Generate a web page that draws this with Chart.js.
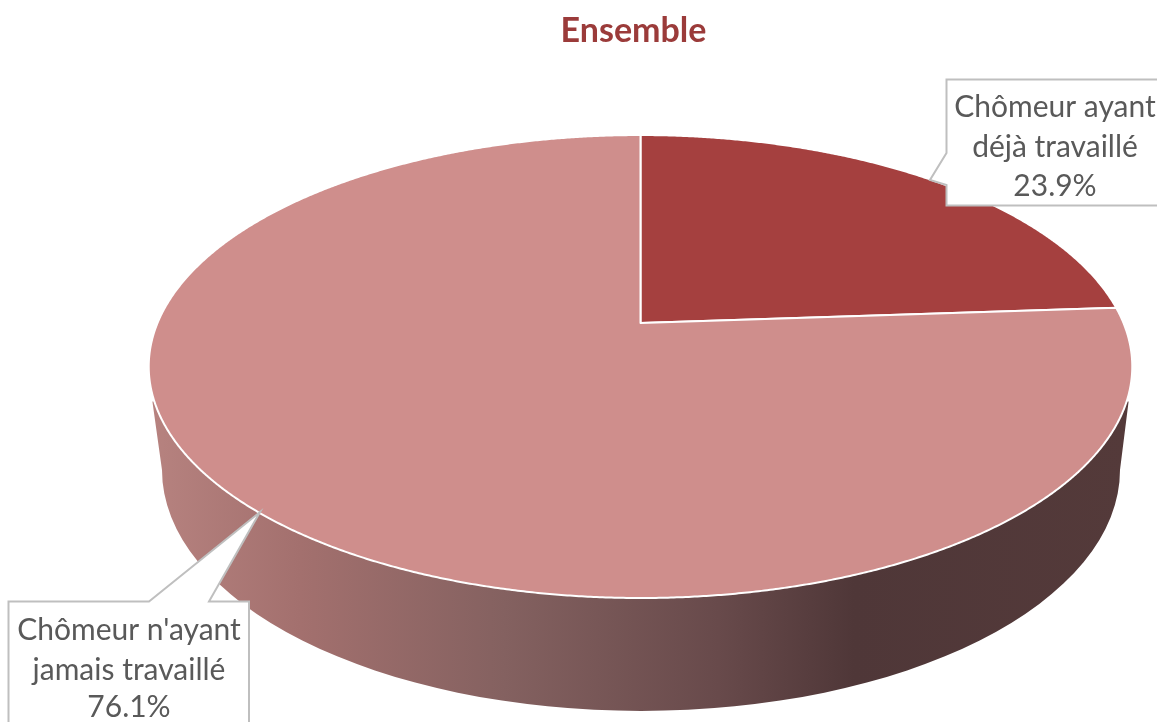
<!DOCTYPE html>
<html>
<head>
<meta charset="utf-8">
<style>html,body{margin:0;padding:0;background:#fff}canvas{display:block}</style>
<script src="https://cdn.jsdelivr.net/npm/chart.js@4"></script>
</head>
<body>
<canvas id="c" width="1157" height="722"></canvas>
<script>
const titleText = "Ensemble";
const categories = [["Chômeur ayant", "déjà travaillé"], ["Chômeur n'ayant", "jamais travaillé"]];
const shares = [23.9, 76.1];
const sliceColors = ["#A5403F", "#CF8E8C"];

// perspective of the top disc: unit circle -> screen
const TOP = {cx: 640.5, cy: 323, ax: 483, ay: 223.3, k: -0.188};
// bottom rim of the pie's wall
const BOTTOM = {cx: 641, cy: 470, rx: 479, ry: 241};
const WALL_RIM_Y = 0.33;
const wallStops = [[0, "#B6827F"], [0.15, "#A3706E"], [0.36, "#846160"], [0.58, "#684A4B"], [0.72, "#4F3738"], [1, "#543A3A"]];
// callouts: box, leader notch, text centre and line positions
const callouts = [
  {l: 946.5, t: 79.5, r: 1170, b: 205.5, side: "left", notch: [[946.5, 153], [930, 180], [946.5, 185]], tx: 1055, ty: [107, 147, 186]},
  {l: 8.5, t: 601.5, r: 249, b: 740, side: "top", notch: [[149, 601.5], [260, 512], [209, 601.5]], tx: 129, ty: [630, 670, 707]}
];

function project(X, Y) {
  const w = 1 + TOP.k * Y;
  return [TOP.cx + TOP.ax * X / w, TOP.cy + TOP.ay * Y / w];
}

// the library's arc elements keep their own angles; only the way they are painted is projected
const ArcEl = Chart.registry.getElement("arc");
ArcEl.prototype.draw = function (ctx) {
  const {startAngle, endAngle} = this.getProps(["startAngle", "endAngle"], true);
  const o = this.options;
  ctx.save();
  ctx.beginPath();
  const c = project(0, 0);
  ctx.moveTo(c[0], c[1]);
  const n = Math.ceil((endAngle - startAngle) / 0.005);
  for (let i = 0; i <= n; i++) {
    const a = startAngle + (endAngle - startAngle) * i / n;
    const p = project(Math.cos(a), Math.sin(a));
    ctx.lineTo(p[0], p[1]);
  }
  ctx.closePath();
  ctx.fillStyle = o.backgroundColor;
  ctx.fill();
  ctx.lineJoin = "round";
  ctx.strokeStyle = o.borderColor;
  ctx.lineWidth = o.borderWidth;
  ctx.stroke();
  ctx.restore();
};

const pie3d = {
  id: "pie3d",
  beforeDatasetsDraw(chart) {
    const ctx = chart.ctx;
    const Xr = Math.sqrt(1 - WALL_RIM_Y * WALL_RIM_Y);
    const left = project(-Xr, WALL_RIM_Y), right = project(Xr, WALL_RIM_Y);
    const g = ctx.createLinearGradient(left[0], 0, right[0], 0);
    wallStops.forEach(s => g.addColorStop(s[0], s[1]));
    ctx.save();
    ctx.beginPath();
    ctx.moveTo(left[0] - 2, left[1]);
    ctx.ellipse(BOTTOM.cx, BOTTOM.cy, BOTTOM.rx, BOTTOM.ry, 0, Math.PI * 1.0, 0, true);
    ctx.lineTo(right[0] + 2, right[1]);
    ctx.closePath();
    ctx.fillStyle = g;
    ctx.fill();
    ctx.restore();
  },
  afterDraw(chart) {
    const ctx = chart.ctx;
    ctx.save();
    callouts.forEach((b, i) => {
      ctx.beginPath();
      if (b.side === "left") {
        ctx.moveTo(b.r, b.t);
        ctx.lineTo(b.l, b.t);
        b.notch.forEach(p => ctx.lineTo(p[0], p[1]));
        ctx.lineTo(b.l, b.b);
        ctx.lineTo(b.r, b.b);
      } else {
        ctx.moveTo(b.l, b.t);
        b.notch.forEach(p => ctx.lineTo(p[0], p[1]));
        ctx.lineTo(b.r, b.t);
        ctx.lineTo(b.r, b.b);
        ctx.lineTo(b.l, b.b);
      }
      ctx.closePath();
      ctx.fillStyle = "#fff";
      ctx.fill();
      ctx.strokeStyle = "#BFBFBF";
      ctx.lineWidth = 2;
      ctx.stroke();
      ctx.fillStyle = "#595959";
      ctx.font = '30px Lato';
      ctx.textAlign = "center";
      ctx.textBaseline = "middle";
      const lines = [...categories[i], shares[i].toFixed(1) + "%"];
      lines.forEach((t, j) => ctx.fillText(t, b.tx, b.ty[j]));
    });
    ctx.restore();
  }
};

new Chart(document.getElementById("c"), {
  type: "pie",
  data: {
    labels: categories.map(c => c.join(" ")),
    datasets: [{data: shares, backgroundColor: sliceColors, borderColor: "#FFFFFF", borderWidth: 2}]
  },
  plugins: [pie3d],
  options: {
    responsive: false,
    animation: false,
    layout: {padding: {left: 110}},
    plugins: {
      legend: {display: false},
      tooltip: {enabled: false},
      title: {
        display: true,
        text: titleText,
        color: "#9B3B3A",
        font: {family: "Lato", size: 34, weight: "bold"},
        padding: {top: 11, bottom: 10}
      }
    }
  }
});
</script>
</body>
</html>
